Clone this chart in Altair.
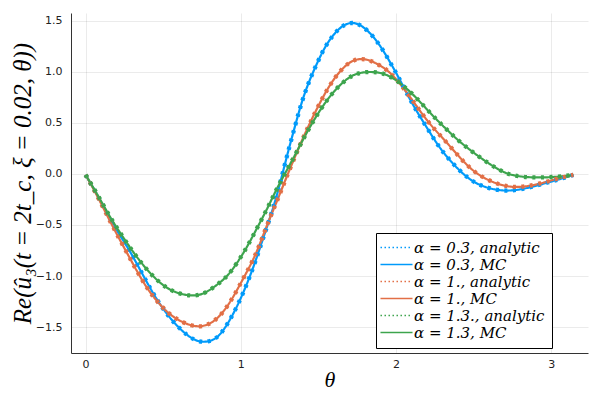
import altair as alt
import pandas as pd

# ---- data ----
series_names = [
    "α = 0.3, analytic", "α = 0.3, MC",
    "α = 1., analytic", "α = 1., MC",
    "α = 1.3., analytic", "α = 1.3, MC",
]
analytic_names = [series_names[0], series_names[2], series_names[4]]
mc_names = [series_names[1], series_names[3], series_names[5]]
series_colors = ["#009AFA", "#009AFA", "#E26F46", "#E26F46", "#3DA44D", "#3DA44D"]

theta_a03 = [0.0, 0.027, 0.08, 0.176, 0.273, 0.348, 0.423, 0.476, 0.551, 0.657, 0.733, 0.808,
             0.872, 0.968, 1.042, 1.096, 1.160, 1.214, 1.257, 1.299, 1.353, 1.395, 1.438, 1.481,
             1.545, 1.630, 1.706, 1.780, 1.876, 1.951, 2.015, 2.101, 2.187, 2.272, 2.357, 2.464,
             2.550, 2.657, 2.764, 2.870, 2.977, 3.08, 3.1416]
value_a03 = [-0.01, -0.08, -0.22, -0.50, -0.72, -0.93, -1.14, -1.27, -1.43, -1.59, -1.65, -1.64,
             -1.58, -1.33, -1.07, -0.85, -0.555, -0.31, -0.07, 0.19, 0.49, 0.72, 0.90, 1.05,
             1.26, 1.43, 1.49, 1.46, 1.31, 1.12, 0.95, 0.69, 0.48, 0.27, 0.11, -0.05,
             -0.12, -0.165, -0.165, -0.13, -0.085, -0.04, -0.01]

theta_a10 = [0.0, 0.027, 0.080, 0.176, 0.251, 0.326, 0.391, 0.455, 0.551, 0.690, 0.775, 0.840,
             0.893, 0.946, 1.010, 1.074, 1.117, 1.171, 1.235, 1.289, 1.374, 1.438, 1.566, 1.663,
             1.727, 1.802, 1.876, 1.940, 1.994, 2.058, 2.133, 2.219, 2.325, 2.421, 2.507, 2.614,
             2.721, 2.828, 2.956, 3.05, 3.1416]
value_a10 = [-0.01, -0.08, -0.23, -0.52, -0.73, -0.94, -1.11, -1.24, -1.40, -1.50, -1.49, -1.43,
             -1.34, -1.22, -1.04, -0.86, -0.71, -0.49, -0.26, -0.05, 0.26, 0.48, 0.87, 1.05,
             1.12, 1.13, 1.08, 1.02, 0.94, 0.82, 0.66, 0.48, 0.31, 0.14, 0.01, -0.08,
             -0.13, -0.13, -0.085, -0.04, -0.01]

theta_a13 = [0.0, 0.080, 0.155, 0.241, 0.326, 0.423, 0.540, 0.679, 0.754, 0.818, 0.893, 0.936,
             1.021, 1.096, 1.171, 1.235, 1.342, 1.438, 1.566, 1.684, 1.759, 1.834, 1.908, 1.983,
             2.090, 2.187, 2.261, 2.325, 2.411, 2.539, 2.668, 2.753, 2.892, 3.04, 3.1416]
value_a13 = [-0.01, -0.21, -0.42, -0.62, -0.81, -0.99, -1.15, -1.20, -1.18, -1.12, -1.03, -0.96,
             -0.77, -0.555, -0.34, -0.13, 0.16, 0.45, 0.76, 0.94, 0.99, 1.00, 0.99, 0.94,
             0.81, 0.65, 0.53, 0.435, 0.31, 0.16, 0.03, -0.02, -0.04, -0.03, -0.01]

series_data = [
    (series_names[0], theta_a03, value_a03),
    (series_names[1], theta_a03, value_a03),
    (series_names[2], theta_a10, value_a10),
    (series_names[3], theta_a10, value_a10),
    (series_names[4], theta_a13, value_a13),
    (series_names[5], theta_a13, value_a13),
]

frames = []
for name, th, val in series_data:
    frames.append(pd.DataFrame({"theta": th, "value": val, "series": name}))
df = pd.concat(frames, ignore_index=True)

legend_dash_range = [[1.5, 2.5], [1, 0], [1.5, 2.5], [1, 0], [1.5, 2.5], [1, 0]]

x_enc = alt.X("theta:Q", scale=alt.Scale(domain=[-0.094, 3.236], nice=False, zero=False),
              axis=alt.Axis(values=[0, 1, 2, 3], format="d", title="θ"))
y_enc = alt.Y("value:Q", scale=alt.Scale(domain=[-1.753, 1.574], nice=False, zero=False),
              axis=alt.Axis(values=[-1.5, -1.0, -0.5, 0.0, 0.5, 1.0, 1.5], format=".1f",
                            title="Re(û₃(t = 2t_c, ξ = 0.02, θ))"))
color_enc = alt.Color("series:N", scale=alt.Scale(domain=series_names, range=series_colors),
                      legend=alt.Legend(title=None))

base = alt.Chart(df)

mc_layer = base.transform_filter(
    alt.FieldOneOfPredicate(field="series", oneOf=mc_names)
).mark_line(interpolate="basis", strokeWidth=2.2).encode(
    x=x_enc, y=y_enc, color=color_enc,
    strokeDash=alt.StrokeDash("series:N",
                              scale=alt.Scale(domain=series_names, range=legend_dash_range),
                              legend=alt.Legend(title=None)),
)

analytic_layer = base.transform_filter(
    alt.FieldOneOfPredicate(field="series", oneOf=analytic_names)
).mark_line(interpolate="basis", strokeWidth=4.3, strokeDash=[3, 5.5], strokeCap="butt").encode(
    x=x_enc, y=y_enc, color=color_enc, detail="series:N",
)

chart = alt.layer(mc_layer, analytic_layer).properties(
    width=517, height=340,
    autosize=alt.AutoSizeParams(type="none"),
    padding={"left": 63, "top": 5, "right": 2, "bottom": 39},
).configure_view(stroke=None).configure_axis(
    grid=True, gridColor="#000000", gridOpacity=0.08, gridWidth=1,
    domainColor="#333333", domainWidth=1, ticks=False,
    labelFont="DejaVu Sans", labelFontSize=11, labelColor="#222222",
    titleFont="Liberation Serif", titleFontStyle="italic", titleFontWeight="normal",
    titleFontSize=25, titleColor="#000000",
).configure_axisX(labelPadding=5, titlePadding=0, titleFontSize=22).configure_axisY(
    labelPadding=9, titlePadding=0
).configure_legend(
    orient="none", legendX=305, legendY=220,
    fillColor="#ffffff", strokeColor="#000000", strokeWidth=1, padding=7,
    labelFont="DejaVu Serif", labelFontStyle="italic", labelFontSize=15, labelColor="#000000",
    symbolType="M-2.67,0H2.67", symbolSize=144, symbolStrokeWidth=1.5, rowPadding=1,
    symbolOffset=6, labelOffset=10, labelLimit=300,
)

chart.save("out.html", embed_options={"renderer": "svg", "actions": False})
